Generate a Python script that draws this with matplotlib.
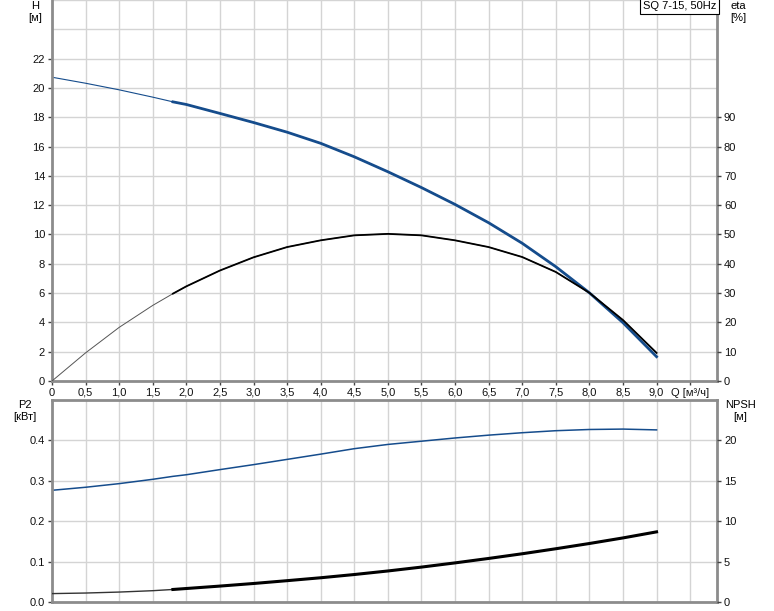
import numpy as np
import matplotlib
matplotlib.use('Agg')
import matplotlib.pyplot as plt

plt.rcParams['font.family'] = ['Liberation Sans', 'DejaVu Sans']
plt.rcParams['font.size'] = 8

# flow, m3/h
q = [0, 0.5, 1.0, 1.5, 1.8, 2.0, 2.5, 3.0, 3.5, 4.0, 4.5, 5.0, 5.5, 6.0,
     6.5, 7.0, 7.5, 8.0, 8.5, 9.0]
# head H, m
head = [20.73, 20.32, 19.87, 19.37, 19.05, 18.87, 18.26, 17.64, 16.98, 16.22,
        15.30, 14.28, 13.20, 12.05, 10.80, 9.40, 7.80, 6.02, 3.98, 1.66]
# efficiency, %
eta = [0, 9.6, 18.3, 25.8, 29.8, 32.3, 37.7, 42.2, 45.7, 48.0, 49.7, 50.2,
       49.7, 48.0, 45.7, 42.3, 37.2, 30.1, 20.8, 9.6]
# shaft power P2, kW
p2 = [0.2765, 0.284, 0.293, 0.3037, 0.311, 0.315, 0.3277, 0.34, 0.353, 0.366,
      0.3795, 0.39, 0.398, 0.406, 0.413, 0.419, 0.424, 0.427, 0.428, 0.426]
# NPSH, m
npsh = [1.04, 1.11, 1.23, 1.40, 1.55, 1.67, 1.97, 2.29, 2.64, 3.0, 3.4, 3.84,
        4.32, 4.84, 5.39, 5.97, 6.59, 7.24, 7.93, 8.68]

x_ticks = [0, 0.5, 1.0, 1.5, 2.0, 2.5, 3.0, 3.5, 4.0, 4.5, 5.0, 5.5, 6.0,
           6.5, 7.0, 7.5, 8.0, 8.5, 9.0, 9.5]
x_labels = [('%.1f' % v).replace('.', ',') if v else '0' for v in x_ticks[:-1]]
x_labels.append('Q [м³/ч]')

q = np.array(q)
thick = q >= 1.8
blue = '#154c8c'
grid_c = '#d4d4d4'
spine_c = '#8c8c8c'

fig = plt.figure(figsize=(7.74, 6.11), dpi=100)
ax1 = fig.add_axes([52/774, 230/611, 665/774, 381/611])
ax2 = fig.add_axes([52/774, 9/611, 665/774, 202/611])


def style(ax, top_spine=True):
    for s in ax.spines.values():
        s.set_color(spine_c)
        s.set_linewidth(2)
    ax.spines['top'].set_visible(top_spine)
    ax.grid(True, which='both', color=grid_c, linewidth=1)
    ax.set_axisbelow(True)
    ax.tick_params(direction='out', length=3, width=1, color='#444444',
                   labelcolor='#111111', pad=2)
    ax.tick_params(which='minor', length=0)


def style_twin(ax):
    for s in ax.spines.values():
        s.set_visible(False)
    ax.tick_params(direction='out', length=3, width=1, color='#444444',
                   labelcolor='#111111', pad=2)


# --- upper chart: H and eta
style(ax1, top_spine=False)
ax1.set_xlim(0, 9.9)
ax1.set_ylim(0, 26)
ax1.set_xticks(x_ticks)
ax1.set_xticklabels(x_labels)
ax1.set_yticks(np.arange(0, 23, 2))
ax1.set_yticks([24, 26], minor=True)

ax1.plot(q, head, color=blue, lw=0.8)
ax1.plot(q[thick], np.array(head)[thick], color=blue, lw=2.0)

ax1b = ax1.twinx()
ax1b.set_ylim(0, 130)
ax1b.set_yticks(np.arange(0, 100, 10))
style_twin(ax1b)
ax1b.plot(q, eta, color='#555555', lw=0.7)
ax1b.plot(q[thick], np.array(eta)[thick], color='black', lw=1.3)

ax1.text(0.999, 0.997, 'SQ 7-15, 50Hz', transform=ax1.transAxes,
         ha='right', va='top', fontsize=8,
         bbox=dict(facecolor='white', edgecolor='black', lw=0.8,
                   boxstyle='square,pad=0.25'))

fig.text(35/774, 1 - 6/611, 'H', ha='center', va='center')
fig.text(35/774, 1 - 18/611, '[м]', ha='center', va='center')
fig.text(738/774, 1 - 6/611, 'eta', ha='center', va='center')
fig.text(738/774, 1 - 18/611, '[%]', ha='center', va='center')

# --- lower chart: P2 and NPSH
style(ax2)
ax2.set_xlim(0, 9.9)
ax2.set_ylim(0, 0.5)
ax2.set_xticks(x_ticks)
ax2.tick_params(axis='x', length=0, labelbottom=False)
ax2.set_yticks([0.0, 0.1, 0.2, 0.3, 0.4])
ax2.set_yticklabels(['0.0', '0.1', '0.2', '0.3', '0.4'])
ax2.plot(q, p2, color=blue, lw=1.1)

ax2b = ax2.twinx()
ax2b.set_ylim(0, 25)
ax2b.set_yticks([0, 5, 10, 15, 20])
style_twin(ax2b)
ax2b.plot(q, npsh, color='#333333', lw=1.0)
ax2b.plot(q[thick], np.array(npsh)[thick], color='black', lw=2.2)

fig.text(25/774, 1 - 405/611, 'P2', ha='center', va='center')
fig.text(25/774, 1 - 417/611, '[кВт]', ha='center', va='center')
fig.text(740/774, 1 - 405/611, 'NPSH', ha='center', va='center')
fig.text(740/774, 1 - 417/611, '[м]', ha='center', va='center')

fig.savefig('out.png', dpi=100)
